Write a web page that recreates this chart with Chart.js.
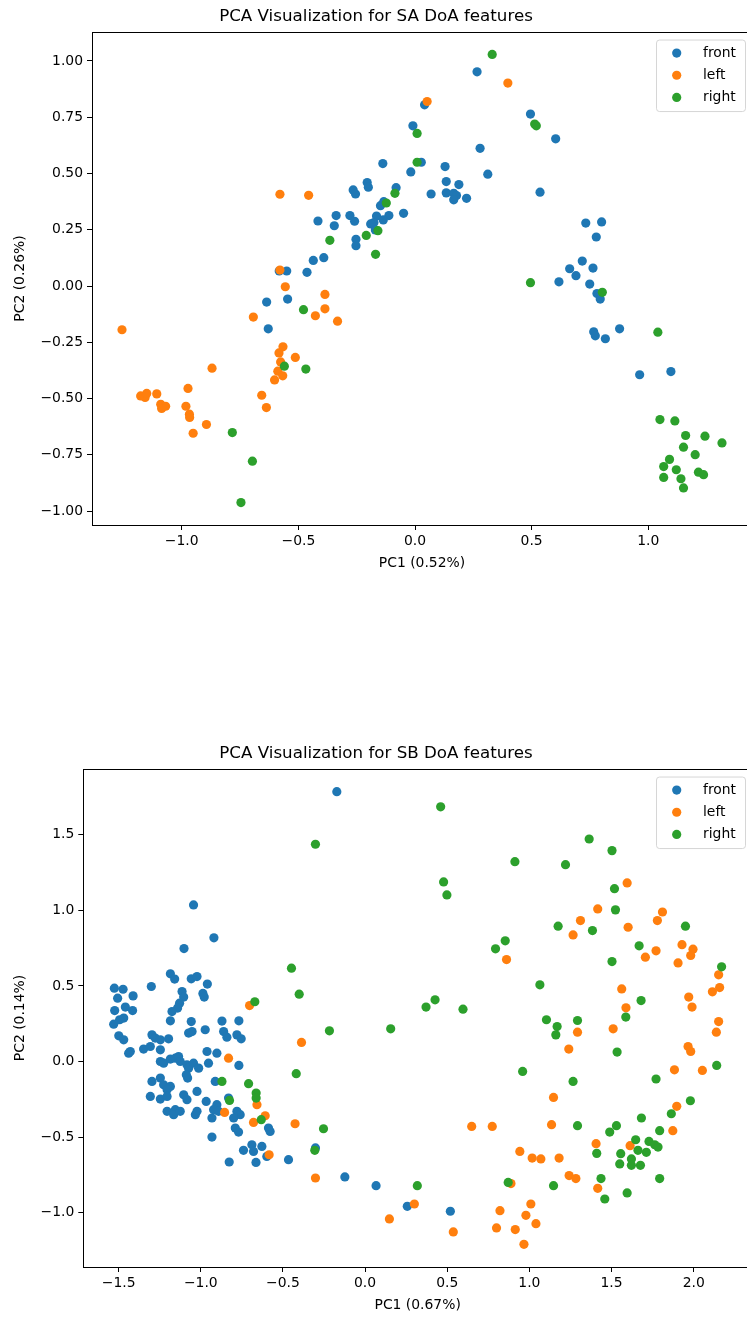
<!DOCTYPE html>
<html>
<head>
<meta charset="utf-8">
<script src="https://cdn.jsdelivr.net/npm/chart.js@4.4.1/dist/chart.umd.min.js"></script>
<style>
  html, body { margin: 0; padding: 0; background: #fff; overflow: hidden; }
  body { width: 747px; height: 1319px; position: relative; }
  canvas { position: absolute; left: 0; }
  #sa { top: 0px; }
  #sb { top: 737px; }
</style>
</head>
<body>
<canvas id="sa" width="760" height="590"></canvas>
<canvas id="sb" width="760" height="582"></canvas>
<script>
// series names + tab10 colours
const seriesLabels = ['front', 'left', 'right'];
const seriesColors = ['#1f77b4', '#ff7f0e', '#2ca02c'];

// ---- SA DoA features : [PC1, PC2]
const saFront = [
  [0.041,0.805],[-0.009,0.712],[0.027,0.55],[-0.138,0.544],[-0.018,0.507],[-0.205,0.46],[-0.2,0.439],
  [-0.265,0.427],[-0.255,0.409],[-0.081,0.437],[-0.134,0.375],[-0.148,0.357],[-0.049,0.323],[-0.112,0.313],
  [-0.165,0.311],[-0.136,0.294],[-0.176,0.282],[-0.19,0.276],[-0.279,0.313],[-0.259,0.288],[-0.338,0.313],
  [-0.346,0.268],[-0.416,0.289],[-0.17,0.249],[-0.253,0.208],[-0.253,0.179],[-0.391,0.126],[-0.436,0.114],
  [-0.582,0.067],[-0.55,0.067],[-0.463,0.061],[0.266,0.952],[0.495,0.764],[0.603,0.654],[0.279,0.612],
  [0.129,0.531],[0.312,0.497],[0.134,0.464],[0.188,0.451],[0.069,0.409],[0.134,0.414],[0.166,0.412],
  [0.178,0.402],[0.166,0.383],[0.221,0.39],[0.536,0.417],[0.732,0.28],[0.80,0.285],[0.777,0.218],
  [0.717,0.111],[0.663,0.077],[0.69,0.046],[0.763,0.08],[0.617,0.019],[0.749,0.009],[0.78,-0.033],
  [0.794,-0.058],[0.766,-0.203],[0.773,-0.221],[0.816,-0.234],[0.877,-0.19],[0.963,-0.394],[1.097,-0.38],
  [-0.636,-0.071],[-0.546,-0.058],[-0.629,-0.19]
];
const saLeft = [
  [0.052,0.82],[0.398,0.902],[-0.579,0.408],[-0.456,0.403],[-0.579,0.071],[-0.556,-0.003],[-0.386,-0.037],
  [-0.386,-0.101],[-0.427,-0.132],[-0.332,-0.156],[-0.693,-0.138],[-1.256,-0.194],[-0.566,-0.27],
  [-0.583,-0.297],[-0.513,-0.317],[-0.576,-0.337],[-0.588,-0.378],[-0.567,-0.399],[-0.602,-0.417],
  [-0.87,-0.365],[-0.973,-0.455],[-1.176,-0.488],[-1.157,-0.495],[-1.15,-0.477],[-1.107,-0.479],
  [-0.657,-0.485],[-1.09,-0.525],[-1.069,-0.534],[-1.086,-0.544],[-0.982,-0.534],[-0.967,-0.569],
  [-0.966,-0.584],[-0.637,-0.54],[-0.894,-0.615],[-0.951,-0.654]
];
const saRight = [
  [0.331,1.029],[0.009,0.678],[0.009,0.55],[0.513,0.72],[0.52,0.712],[-0.086,0.412],[-0.123,0.369],
  [-0.159,0.246],[-0.209,0.225],[-0.365,0.203],[-0.169,0.141],[0.495,0.015],[0.803,-0.028],[1.041,-0.205],
  [-0.478,-0.105],[-0.56,-0.356],[-0.468,-0.369],[-0.783,-0.651],[-0.697,-0.778],[-0.746,-0.962],
  [1.05,-0.593],[1.114,-0.599],[1.16,-0.664],[1.243,-0.667],[1.316,-0.697],[1.151,-0.716],[1.201,-0.749],
  [1.091,-0.77],[1.066,-0.802],[1.12,-0.816],[1.215,-0.827],[1.237,-0.838],[1.066,-0.85],[1.14,-0.856],
  [1.151,-0.897]
];
const saXTicks = [-1.0, -0.5, 0.0, 0.5, 1.0];
const saYTicks = [-1.0, -0.75, -0.5, -0.25, 0.0, 0.25, 0.5, 0.75, 1.0];

// ---- SB DoA features : [PC1, PC2]
const sbFront = [
  [-0.172,1.785],[-1.044,1.036],[-0.92,0.818],[-1.102,0.747],[-1.185,0.58],[-1.159,0.545],[-1.058,0.547],
  [-1.023,0.562],[-0.96,0.512],[-0.987,0.45],[-0.979,0.426],[-1.301,0.496],[-1.526,0.485],[-1.473,0.478],
  [-1.412,0.434],[-1.506,0.419],[-1.114,0.463],[-1.104,0.426],[-1.129,0.386],[-1.141,0.353],[-1.524,0.337],
  [-1.459,0.36],[-1.415,0.337],[-1.469,0.287],[-1.53,0.247],[-1.494,0.276],[-1.175,0.33],[-1.185,0.269],
  [-1.058,0.264],[-0.871,0.267],[-0.768,0.269],[-1.074,0.188],[-1.053,0.198],[-0.973,0.21],[-0.861,0.198],
  [-0.841,0.161],[-0.78,0.176],[-0.754,0.15],[-1.499,0.17],[-1.469,0.143],[-1.429,0.066],[-1.439,0.055],
  [-1.348,0.082],[-1.297,0.176],[-1.277,0.155],[-1.246,0.143],[-1.196,0.15],[-1.246,0.077],[-1.307,0.099],
  [-1.246,0.0],[-1.226,-0.011],[-1.185,0.016],[-1.155,0.022],[-1.135,0.033],[-1.125,0.0],[-1.084,-0.022],
  [-1.074,-0.044],[-1.044,-0.011],[-1.013,-0.044],[-1.08,-0.11],[-1.088,-0.088],[-0.953,-0.011],
  [-0.962,0.066],[-0.902,0.055],[-0.768,-0.026],[-1.297,-0.132],[-1.246,-0.11],[-1.226,-0.154],
  [-1.185,-0.165],[-1.205,-0.187],[-1.307,-0.231],[-1.246,-0.249],[-1.205,-0.231],[-1.104,-0.22],
  [-1.084,-0.253],[-1.023,-0.198],[-1.205,-0.33],[-1.155,-0.319],[-1.165,-0.352],[-1.125,-0.33],
  [-1.033,-0.352],[-1.023,-0.33],[-0.967,-0.264],[-0.912,-0.132],[-0.831,-0.242],[-0.902,-0.286],
  [-0.922,-0.319],[-0.892,-0.33],[-0.932,-0.374],[-0.78,-0.33],[-0.76,-0.352],[-0.8,-0.374],[-0.79,-0.44],
  [-0.77,-0.467],[-0.588,-0.44],[-0.578,-0.463],[-0.932,-0.5],[-0.74,-0.588],[-0.689,-0.551],[-0.679,-0.595],
  [-0.628,-0.562],[-0.598,-0.628],[-0.827,-0.665],[-0.664,-0.668],[-0.466,-0.65],[-0.302,-0.572],
  [-0.123,-0.764],[0.067,-0.822],[0.257,-0.958],[0.519,-0.991]
];
const sbLeft = [
  [-0.703,0.37],[-0.831,0.022],[-0.855,-0.337],[-0.658,-0.286],[-0.679,-0.403],[-0.608,-0.359],[-0.584,-0.617],
  [-0.387,0.126],[-0.426,-0.412],[-0.302,-0.771],[0.649,-0.43],[0.774,-0.43],[0.3,-0.943],[0.148,-1.042],
  [0.537,-1.128],[0.942,-0.595],[1.017,-0.639],[1.07,-0.645],[0.888,-0.808],[1.009,-0.943],[0.821,-0.987],
  [0.979,-1.018],[0.8,-1.101],[0.914,-1.112],[1.04,-1.073],[0.967,-1.21],[0.861,0.674],[1.595,1.181],
  [1.416,1.009],[1.81,0.989],[1.779,0.932],[1.311,0.932],[1.266,0.837],[1.601,0.888],[1.771,0.732],
  [1.706,0.69],[1.929,0.773],[1.996,0.743],[1.982,0.701],[1.905,0.652],[2.152,0.573],[2.158,0.489],
  [2.114,0.461],[1.562,0.48],[1.97,0.426],[1.99,0.36],[1.588,0.355],[2.152,0.264],[1.293,0.194],[1.51,0.216],
  [2.138,0.194],[1.24,0.082],[1.966,0.099],[1.982,0.066],[1.883,-0.055],[2.053,-0.059],[1.147,-0.238],
  [1.897,-0.297],[1.135,-0.418],[1.873,-0.458],[1.613,-0.557],[1.406,-0.544],[1.181,-0.639],[1.242,-0.755],
  [1.283,-0.775],[1.416,-0.839]
];
const sbRight = [
  [-0.302,1.437],[-0.448,0.617],[-0.401,0.445],[-0.671,0.395],[-0.871,-0.132],[-0.709,-0.147],[-0.663,-0.209],
  [-0.663,-0.242],[-0.825,-0.258],[-0.632,-0.385],[-0.419,-0.081],[-0.306,-0.588],[-0.253,-0.445],
  [-0.217,0.203],[0.156,0.216],[0.371,0.36],[0.426,0.408],[0.596,0.346],[0.959,-0.066],[0.318,-0.822],
  [0.871,-0.8],[0.46,1.685],[0.912,1.322],[0.478,1.188],[0.498,1.102],[0.853,0.798],[0.794,0.745],
  [1.064,0.507],[1.364,1.472],[1.503,1.395],[1.22,1.302],[1.518,1.143],[1.524,1.003],[1.175,0.895],
  [1.384,0.866],[1.95,0.895],[1.668,0.765],[1.503,0.661],[2.17,0.626],[1.68,0.403],[1.587,0.294],
  [1.104,0.276],[1.169,0.231],[1.161,0.176],[1.293,0.271],[1.534,0.062],[2.14,-0.026],[1.266,-0.132],
  [1.771,-0.116],[1.98,-0.26],[1.864,-0.346],[1.293,-0.425],[1.682,-0.374],[1.53,-0.425],[1.489,-0.467],
  [1.793,-0.458],[1.647,-0.518],[1.728,-0.529],[1.763,-0.551],[1.783,-0.566],[1.661,-0.588],[1.712,-0.601],
  [1.41,-0.608],[1.556,-0.61],[1.621,-0.645],[1.621,-0.687],[1.676,-0.687],[1.55,-0.678],[1.147,-0.822],
  [1.436,-0.775],[1.793,-0.775],[1.595,-0.87],[1.459,-0.91]
];
const sbXTicks = [-1.5, -1.0, -0.5, 0.0, 0.5, 1.0, 1.5, 2.0];
const sbYTicks = [-1.0, -0.5, 0.0, 0.5, 1.0, 1.5];

Chart.defaults.font.family = "'DejaVu Sans', sans-serif";
Chart.defaults.font.size = 13.9;
Chart.defaults.color = '#000';

// matplotlib-like 5% margins around the data
function limits(groups, k) {
  const vals = groups.flat().map(p => p[k]);
  const lo = Math.min(...vals), hi = Math.max(...vals);
  const m = (hi - lo) * 0.05;
  return [lo - m, hi + m];
}

function fmt(v, digits) {
  return v.toFixed(digits).replace('-', '\u2212');
}

// full box around the plot area (all four spines)
const framePlugin = {
  id: 'frame',
  afterDatasetsDraw(chart) {
    const { ctx, chartArea: a } = chart;
    ctx.save();
    ctx.strokeStyle = '#000';
    ctx.lineWidth = 1;
    ctx.strokeRect(Math.round(a.left) + 0.5, Math.round(a.top) + 0.5,
      Math.round(a.right - a.left), Math.round(a.bottom - a.top));
    ctx.restore();
  }
};

// legend box in the upper right corner, inside the axes
const cornerLegend = {
  id: 'cornerLegend',
  afterDraw(chart) {
    const { ctx, chartArea: a } = chart;
    const w = 89, h = 71.5;
    const x0 = a.right - 7 - w, y0 = a.top + 7.5;
    ctx.save();
    ctx.globalAlpha = 0.8;
    ctx.fillStyle = '#fff';
    ctx.strokeStyle = '#cccccc';
    ctx.lineWidth = 1;
    ctx.beginPath();
    ctx.roundRect(x0 + 0.5, y0 + 0.5, w, h, 3);
    ctx.fill();
    ctx.stroke();
    ctx.globalAlpha = 1;
    ctx.font = "13.9px 'DejaVu Sans', sans-serif";
    ctx.textBaseline = 'middle';
    chart.data.datasets.forEach((ds, i) => {
      const cy = y0 + 13.5 + i * 22.2;
      ctx.fillStyle = ds.backgroundColor;
      ctx.beginPath();
      ctx.arc(x0 + 20.7, cy, 4.6, 0, Math.PI * 2);
      ctx.fill();
      ctx.fillStyle = '#000';
      ctx.fillText(ds.label, x0 + 47, cy);
    });
    ctx.restore();
  }
};

function makeChart(id, title, groups, xTicks, yTicks, xDigits, yDigits, xTitle, yTitle, yAxisWidth, xAxisHeight, xTitlePad) {
  const [xmin, xmax] = limits(groups, 0);
  const [ymin, ymax] = limits(groups, 1);
  const datasets = groups.map((g, i) => ({
    label: seriesLabels[i],
    data: g.map(([x, y]) => ({ x, y })),
    backgroundColor: seriesColors[i],
    borderWidth: 0,
    pointRadius: 4.6,
    pointHoverRadius: 4.6,
    order: groups.length - i   // later series drawn on top, like matplotlib
  }));
  return new Chart(document.getElementById(id), {
    type: 'scatter',
    data: { datasets },
    options: {
      responsive: false,
      animation: false,
      devicePixelRatio: 1,
      events: [],
      layout: { padding: { left: 0, right: 8, top: 0, bottom: 0 } },
      plugins: {
        legend: { display: false },
        tooltip: { enabled: false },
        title: {
          display: true,
          text: title,
          color: '#000',
          font: { size: 16.7, weight: 'normal' },
          padding: { top: 7, bottom: 5 }
        }
      },
      scales: {
        x: {
          type: 'linear',
          min: xmin,
          max: xmax,
          afterBuildTicks: s => { s.ticks = xTicks.map(v => ({ value: v })); },
          afterFit: s => { s.height = xAxisHeight; },
          ticks: { callback: v => fmt(v, xDigits), padding: 3, maxRotation: 0 },
          grid: { display: true, drawOnChartArea: false, drawTicks: true, tickLength: 5, tickColor: '#000', tickWidth: 1 },
          border: { display: false },
          title: { display: true, text: xTitle, padding: { top: 0, bottom: xTitlePad } }
        },
        y: {
          type: 'linear',
          min: ymin,
          max: ymax,
          afterBuildTicks: s => { s.ticks = yTicks.map(v => ({ value: v })); },
          afterFit: s => { s.width = yAxisWidth; },
          ticks: { callback: v => fmt(v, yDigits), padding: 4 },
          grid: { display: true, drawOnChartArea: false, drawTicks: true, tickLength: 5, tickColor: '#000', tickWidth: 1 },
          border: { display: false },
          title: { display: true, text: yTitle, padding: { top: 11.6, bottom: 0 } }
        }
      }
    },
    plugins: [framePlugin, cornerLegend]
  });
}

makeChart('sa', 'PCA Visualization for SA DoA features', [saFront, saLeft, saRight],
  saXTicks, saYTicks, 1, 2, 'PC1 (0.52%)', 'PC2 (0.26%)', 92, 65, 18.3);
makeChart('sb', 'PCA Visualization for SB DoA features', [sbFront, sbLeft, sbRight],
  sbXTicks, sbYTicks, 1, 1, 'PC1 (0.67%)', 'PC2 (0.14%)', 83.3, 52, 5.6);
</script>
</body>
</html>
